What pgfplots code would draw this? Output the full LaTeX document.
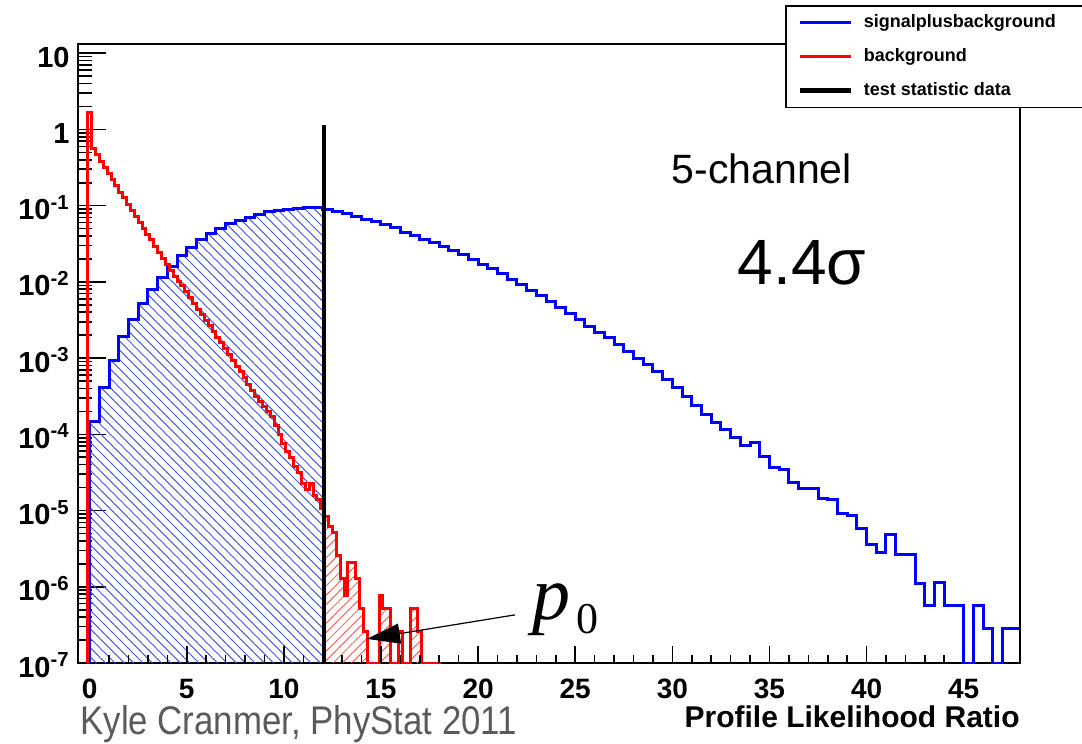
\documentclass[border=0pt]{standalone}
\usepackage{fontspec}
\setmainfont{Liberation Sans}
\newfontfamily\seriffont{Liberation Serif}
\usepackage{pgfplots}
\pgfplotsset{compat=1.18}
\usetikzlibrary{patterns.meta,arrows.meta}
\definecolor{rootblue}{RGB}{0,0,255}
\definecolor{rootred}{RGB}{255,0,0}
\definecolor{hatchblue}{RGB}{70,90,235}
\definecolor{hatchred}{RGB}{255,100,100}
\definecolor{kylegray}{RGB}{90,90,90}
\begin{document}
\begin{tikzpicture}
\path[use as bounding box] (-39bp,-40.5bp) rectangle (502bp,331.5bp);
\begin{axis}[
  at={(0,0)}, anchor=south west,
  width=471bp, height=309.5bp, scale only axis,
  xmin=-0.6, xmax=47.9, ymode=log, ymin=1e-7, ymax=13.2,
  axis line style={line width=1bp},
  xtick=\empty,
  ytick={1e-7,1e-6,1e-5,1e-4,1e-3,1e-2,1e-1,1,10},
  yticklabels={10\textsuperscript{-7},10\textsuperscript{-6},10\textsuperscript{-5},10\textsuperscript{-4},10\textsuperscript{-3},10\textsuperscript{-2},10\textsuperscript{-1},1,10},
  minor ytick={2e-7,3e-7,4e-7,5e-7,6e-7,7e-7,8e-7,9e-7,
    2e-6,3e-6,4e-6,5e-6,6e-6,7e-6,8e-6,9e-6,
    2e-5,3e-5,4e-5,5e-5,6e-5,7e-5,8e-5,9e-5,
    2e-4,3e-4,4e-4,5e-4,6e-4,7e-4,8e-4,9e-4,
    2e-3,3e-3,4e-3,5e-3,6e-3,7e-3,8e-3,9e-3,
    0.02,0.03,0.04,0.05,0.06,0.07,0.08,0.09,
    0.2,0.3,0.4,0.5,0.6,0.7,0.8,0.9,
    2,3,4,5,6,7,8,9},
  ytick pos=left, tick align=inside,
  major tick length=14bp, minor tick length=7bp,
  tick style={black, line width=0.8bp},
  yticklabel style={font=\fontsize{14.5bp}{14.5bp}\bfseries\selectfont, anchor=base east, inner sep=0pt, xshift=-4bp, yshift=-7bp},
  clip mode=individual,
  legend cell align=left,
  legend image code/.code={\draw[#1] (0bp,0bp) -- (25.5bp,0bp);},
  legend style={at={(0.7505,1.063)}, anchor=north west, draw=black, line width=0.8bp, fill=white,
    inner xsep=6bp, inner ysep=4.4bp, row sep=9bp,
    font=\fontsize{9bp}{9bp}\bfseries\selectfont,
    nodes={inner sep=0pt},
    /tikz/every odd column/.append style={column sep=5bp}},
]
\addlegendimage{rootblue, line width=1.5bp}
\addlegendentry{\makebox[104bp][l]{signalplusbackground}}
\addlegendimage{rootred, line width=1.5bp}
\addlegendentry{\makebox[104bp][l]{background}}
\addlegendimage{black, line width=2.5bp}
\addlegendentry{\makebox[104bp][l]{test statistic data}}

% blue hatched area (left of the observed value)
\addplot[const plot, draw=none, pattern={Lines[angle=-45,distance=3.3bp,line width=0.5bp]}, pattern color=hatchblue, forget plot] coordinates {
(0,1e-7) (0,1.48e-4) (0.5,4.07e-4) (1,9.33e-4) (1.5,1.91e-3) (2,3.24e-3) (2.5,5.25e-3) (3,7.94e-3) (3.5,1.15e-2) (4,1.58e-2) (4.5,2.19e-2) (5,2.82e-2) (5.5,3.55e-2) (6,4.27e-2) (6.5,5.01e-2) (7,5.75e-2) (7.5,6.46e-2) (8,7.08e-2) (8.5,7.76e-2) (9,8.32e-2) (9.5,8.71e-2) (10,9.02e-2) (10.5,9.23e-2) (11,9.33e-2) (11.5,9.33e-2) (12,8.77e-2) (12.08,8.77e-2) (12.08,1e-7)};

% red hatched area (right of the observed value)
\addplot[const plot, draw=none, pattern={Lines[angle=45,distance=3.3bp,line width=0.5bp]}, pattern color=hatchred, forget plot] coordinates {
(12.08,1e-7) (12.08,1.05e-5) (12.1,8.3e-6) (12.3,6.2e-6) (12.5,5.2e-6) (12.7,2.6e-6) (12.9,1.3e-6) (13.1,7.8e-7) (13.3,2.1e-6) (13.5,2.1e-6) (13.7,1.3e-6) (13.9,5.2e-7) (14.1,2.6e-7) (14.3,1e-7) (14.5,1e-7) (14.7,1e-7) (14.9,7.8e-7) (15.1,5.2e-7) (15.3,5.2e-7) (15.5,1e-7) (15.7,1e-7) (15.9,2.6e-7) (16.1,1e-7) (16.3,1e-7) (16.5,5.2e-7) (16.7,5.2e-7) (16.9,2.6e-7) (17.1,1e-7)};

% signal plus background histogram
\addplot[const plot, rootblue, line width=1.5bp, forget plot] coordinates {
(0,1e-7) (0,1.48e-4) (0.5,4.07e-4) (1,9.33e-4) (1.5,1.91e-3) (2,3.24e-3) (2.5,5.25e-3) (3,7.94e-3) (3.5,1.15e-2) (4,1.58e-2) (4.5,2.19e-2) (5,2.82e-2) (5.5,3.55e-2) (6,4.27e-2) (6.5,5.01e-2) (7,5.75e-2) (7.5,6.46e-2) (8,7.08e-2) (8.5,7.76e-2) (9,8.32e-2) (9.5,8.71e-2) (10,9.02e-2) (10.5,9.23e-2) (11,9.33e-2) (11.5,9.33e-2) (12,8.77e-2) (12.5,8.41e-2) (13,7.94e-2) (13.5,7.31e-2) (14,6.68e-2) (14.5,6.17e-2) (15,5.62e-2) (15.5,5.13e-2) (16,4.47e-2) (16.5,4.03e-2) (17,3.63e-2) (17.5,3.24e-2) (18,2.88e-2) (18.5,2.57e-2) (19,2.26e-2) (19.5,1.95e-2) (20,1.70e-2) (20.5,1.48e-2) (21,1.29e-2) (21.5,1.08e-2) (22,9.12e-3) (22.5,7.76e-3) (23,6.61e-3) (23.5,5.50e-3) (24,4.57e-3) (24.5,3.80e-3) (25,3.24e-3) (25.5,2.63e-3) (26,2.19e-3) (26.5,1.86e-3) (27,1.51e-3) (27.5,1.23e-3) (28,1.00e-3) (28.5,8.32e-4) (29,6.61e-4) (29.5,5.25e-4) (30,4.07e-4) (30.5,3.16e-4) (31,2.40e-4) (31.5,1.82e-4) (32,1.41e-4) (32.5,1.17e-4) (33,9.12e-5) (33.5,7.24e-5) (34,7.76e-5) (34.5,5.13e-5) (35,3.63e-5) (35.5,3.47e-5) (36,2.34e-5) (36.5,1.95e-5) (37,1.95e-5) (37.5,1.45e-5) (38,1.38e-5) (38.5,9.12e-6) (39,8.51e-6) (39.5,5.89e-6) (40,3.63e-6) (40.5,2.82e-6) (41,4.90e-6) (41.5,2.63e-6) (42,2.63e-6) (42.5,1.12e-6) (43,5.62e-7) (43.5,1.15e-6) (44,5.75e-7) (44.5,5.75e-7) (45,1e-7) (45.5,5.75e-7) (46,2.82e-7) (46.5,1e-7) (47,2.82e-7) (47.5,2.82e-7) (48,2.82e-7)};

% background histogram
\addplot[const plot, rootred, line width=1.5bp, forget plot] coordinates {
(-0.1,1e-7) (-0.1,1.65) (0.1,0.56) (0.3,0.468) (0.5,0.380) (0.7,0.316) (0.9,0.263) (1.1,0.219) (1.3,0.182) (1.5,0.151) (1.7,0.126) (1.9,0.105) (2.1,0.0871) (2.3,0.0724) (2.5,0.0603) (2.7,0.0501) (2.9,0.0417) (3.1,0.0355) (3.3,0.0295) (3.5,0.0245) (3.7,0.0204) (3.9,0.0170) (4.1,0.0141) (4.3,0.0117) (4.5,0.0102) (4.7,0.00891) (4.9,0.00759) (5.1,0.00631) (5.3,0.00525) (5.5,0.00437) (5.7,0.00372) (5.9,0.00316) (6.1,0.00269) (6.3,0.00224) (6.5,0.00186) (6.7,0.00158) (6.9,0.00135) (7.1,0.00112) (7.3,9.33e-4) (7.5,7.76e-4) (7.7,6.61e-4) (7.9,5.50e-4) (8.1,4.47e-4) (8.3,3.72e-4) (8.5,3.16e-4) (8.7,2.69e-4) (8.9,2.29e-4) (9.1,2.00e-4) (9.3,1.70e-4) (9.5,1.32e-4) (9.7,1.00e-4) (9.9,7.59e-5) (10.1,6.03e-5) (10.3,5.01e-5) (10.5,3.80e-5) (10.7,3.16e-5) (10.9,2.29e-5) (11.1,1.91e-5) (11.3,2.29e-5) (11.5,1.58e-5) (11.7,1.38e-5) (11.9,1.05e-5) (12.1,8.3e-6) (12.3,6.2e-6) (12.5,5.2e-6) (12.7,2.6e-6) (12.9,1.3e-6) (13.1,7.8e-7) (13.3,2.1e-6) (13.5,2.1e-6) (13.7,1.3e-6) (13.9,5.2e-7) (14.1,2.6e-7) (14.3,1e-7) (14.5,1e-7) (14.7,1e-7) (14.9,7.8e-7) (15.1,5.2e-7) (15.3,5.2e-7) (15.5,1e-7) (15.7,1e-7) (15.9,2.6e-7) (16.1,1e-7) (16.3,1e-7) (16.5,5.2e-7) (16.7,5.2e-7) (16.9,2.6e-7) (17.1,1e-7) (18.1,1e-7)};

% observed test statistic
\addplot[black, line width=2.2bp, forget plot] coordinates {(12.08,1e-7) (12.08,1.16)};

\node[anchor=base west, inner sep=0pt, font=\fontsize{20.5bp}{20.5bp}\selectfont] at (axis cs:29.95,0.195) {5-channel};
\node[anchor=base west, inner sep=0pt, font=\fontsize{32bp}{32bp}\selectfont] at (axis cs:33.35,0.0091) {4.4σ};
\node[anchor=base west, inner sep=0pt] at (axis cs:22.8,3.7e-7) {\fontsize{38bp}{38bp}\seriffont\itshape p\kern3bp\raisebox{-7bp}{\upshape\fontsize{22bp}{22bp}\selectfont 0}};
\draw[line width=0.6bp, -{Triangle[length=16.5bp,width=10bp]}] (axis cs:21.9,4.28e-7) -- (axis cs:14.28,2.07e-7);
\end{axis}
\begin{axis}[
  at={(0,0)}, anchor=south west,
  width=471bp, height=309.5bp, scale only axis,
  xmin=-0.6, xmax=47.9, ymin=0, ymax=1,
  axis line style={draw=none},
  ytick=\empty,
  xtick={0,5,10,15,20,25,30,35,40,45},
  xticklabels={0,5,10,15,20,25,30,35,40,45},
  minor x tick num=4,
  xtick pos=left, tick align=inside,
  major tick length=8.5bp, minor tick length=4bp,
  tick style={black, line width=0.8bp},
  xticklabel style={font=\fontsize{14bp}{14bp}\bfseries\selectfont, anchor=north, inner sep=0pt, yshift=-8bp},
]
\end{axis}
\node[anchor=base east, inner sep=0pt, font=\fontsize{15bp}{15bp}\bfseries\selectfont] at (471bp,-32bp) {Profile Likelihood Ratio};
\node[anchor=base west, inner sep=0pt, text=kylegray] at (1bp,-35.5bp) {\scalebox{0.87}[1]{\fontsize{20bp}{20bp}\selectfont Kyle Cranmer, PhyStat 2011}};
\end{tikzpicture}
\end{document}
